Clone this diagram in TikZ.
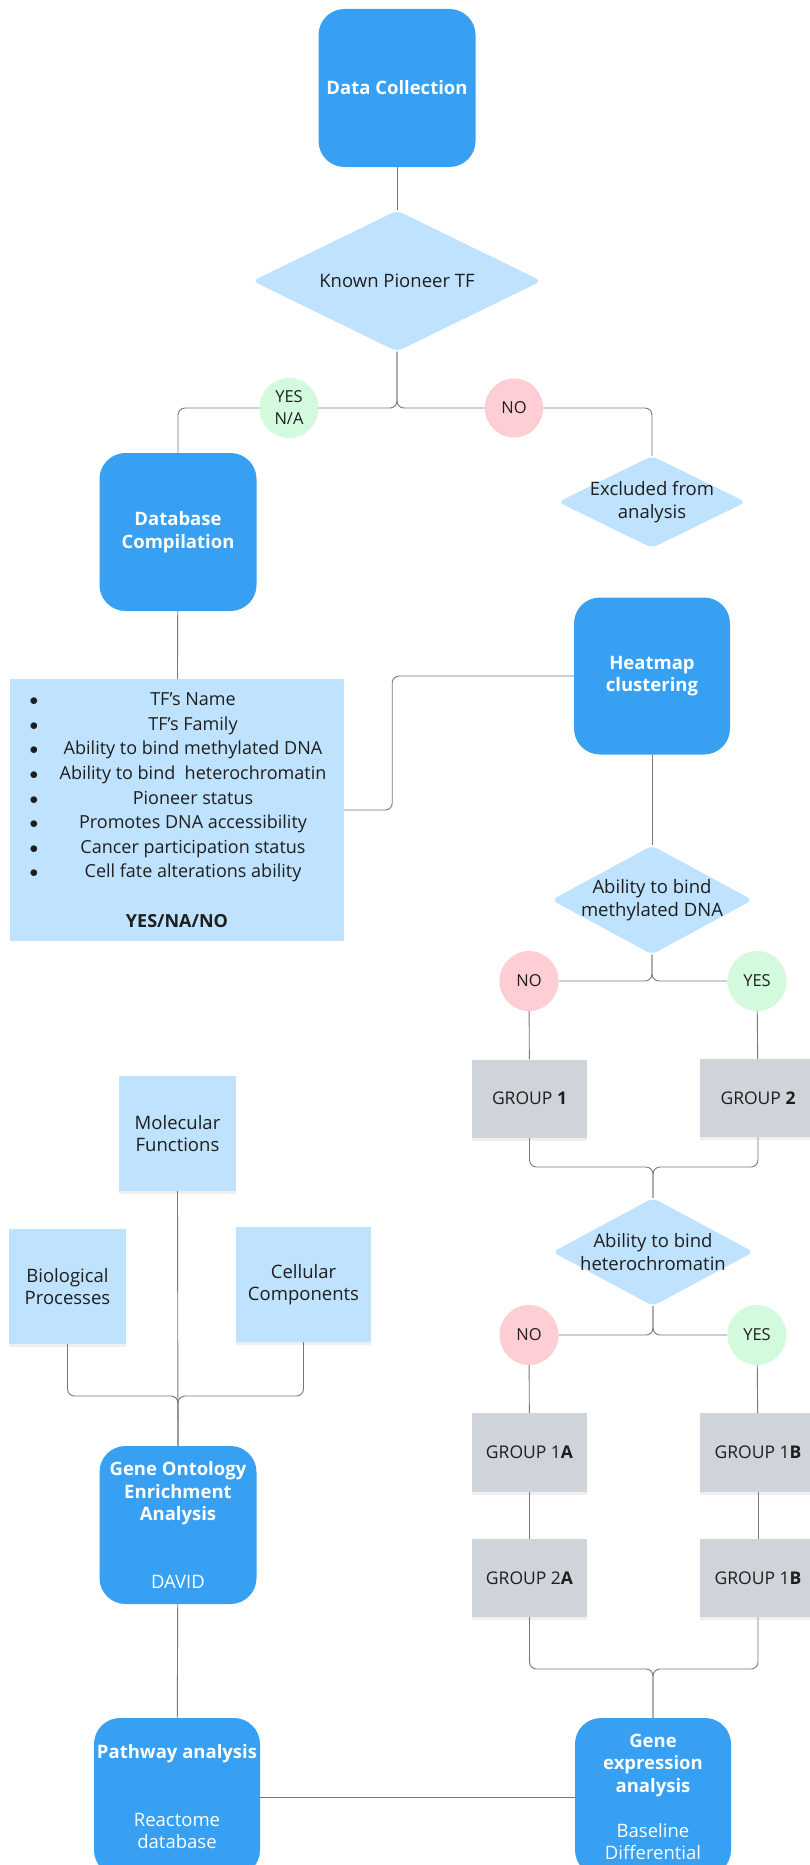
\documentclass[tikz,border=0pt]{standalone}
\usepackage{fontspec}
\setmainfont{Open Sans}
\usetikzlibrary{shapes.geometric,backgrounds,shadows}

\definecolor{stageblue}{RGB}{55,160,242}
\definecolor{paleblue}{RGB}{191,227,254}
\definecolor{yesgreen}{RGB}{212,250,222}
\definecolor{nopink}{RGB}{255,205,212}
\definecolor{groupgray}{RGB}{207,212,219}
\definecolor{linegray}{RGB}{120,120,120}
\definecolor{inkdark}{RGB}{30,30,30}

\begin{document}
\begin{tikzpicture}[x=1pt, y=-1pt,
    font=\fontsize{18.5}{22.5}\selectfont,
    link/.style={draw=linegray, line width=0.9pt, rounded corners=7pt},
    stage/.style={fill=stageblue, text=white, rounded corners=26pt, align=center,
                  inner sep=0pt, minimum width=157pt, minimum height=158pt},
    decide/.style={diamond, aspect=2, fill=paleblue, text=inkdark, rounded corners=6pt,
                   align=center, inner sep=-5pt},
    answer/.style={ellipse, inner sep=0pt, minimum width=59pt, minimum height=60pt,
                   align=center, text=inkdark, font=\fontsize{16.5}{22}\selectfont},
    yesmark/.style={answer, fill=yesgreen},
    nomark/.style={answer, fill=nopink},
    grp/.style={fill=groupgray, text=inkdark, inner sep=0pt,
                minimum width=116pt, minimum height=78pt,
                font=\fontsize{17.5}{22}\selectfont,
                drop shadow={shadow xshift=0pt, shadow yshift=-3pt, opacity=.12}},
    goterm/.style={fill=paleblue, text=inkdark, align=center, inner sep=0pt,
                   minimum width=117pt, minimum height=115pt,
                   drop shadow={shadow xshift=0pt, shadow yshift=-3pt, opacity=.12}}
]

\useasboundingbox (0,0) rectangle (809,1865);

\node[stage] (dc) at (397,88) {\textbf{Data Collection}};
\node[decide, minimum width=289pt, minimum height=141pt] (kpt) at (397,281) {Known Pioneer TF};
\node[yesmark] (yesna) at (289,408) {YES\\N/A};
\node[nomark, minimum width=58pt, minimum height=59pt] (noone) at (514,408) {NO};
\node[stage] (dbc) at (178,532) {\textbf{Database}\\\textbf{Compilation}};
\node[decide, minimum width=188pt, minimum height=92pt] (excl) at (652,502) {Excluded from\\analysis};

\node[fill=paleblue, text=inkdark, inner sep=0pt, align=center,
      minimum width=334pt, minimum height=262pt,
      font=\fontsize{18}{24.6}\selectfont] (list) at (177,810)
    {\makebox[32pt][c]{$\bullet$}\makebox[286pt][c]{TF’s Name}\\
     \makebox[32pt][c]{$\bullet$}\makebox[286pt][c]{TF’s Family}\\
     \makebox[32pt][c]{$\bullet$}\makebox[286pt][c]{Ability to bind methylated DNA}\\
     \makebox[32pt][c]{$\bullet$}\makebox[286pt][c]{Ability to bind\ \ heterochromatin}\\
     \makebox[32pt][c]{$\bullet$}\makebox[286pt][c]{Pioneer status}\\
     \makebox[32pt][c]{$\bullet$}\makebox[286pt][c]{Promotes DNA accessibility}\\
     \makebox[32pt][c]{$\bullet$}\makebox[286pt][c]{Cancer participation status}\\
     \makebox[32pt][c]{$\bullet$}\makebox[286pt][c]{Cell fate alterations ability}\\[24.6pt]
     \textbf{YES/NA/NO}};

\node[stage, minimum width=156pt, minimum height=157pt] (heat) at (652,676) {\textbf{Heatmap}\\\textbf{clustering}};
\node[decide, minimum width=201pt, minimum height=109pt] (meth) at (652,900) {Ability to bind\\methylated DNA};
\node[nomark] (notwo) at (529,981) {NO};
\node[yesmark] (yestwo) at (757,981) {YES};
\node[grp, minimum width=115pt] (g1) at (529.5,1098.5) {GROUP \textbf{1}};
\node[grp] (g2) at (758,1098) {GROUP \textbf{2}};
\coordinate (mone) at (653,1167);
\node[decide, minimum width=201pt, minimum height=108pt] (het) at (653,1252) {Ability to bind\\heterochromatin};
\node[nomark] (nothree) at (529,1335) {NO};
\node[yesmark] (yesthree) at (757,1335) {YES};
\node[grp, minimum width=115pt, minimum height=79pt] (g1a) at (529.5,1452.5) {GROUP 1\textbf{A}};
\node[grp, minimum height=79pt] (g1b) at (758,1452.5) {GROUP 1\textbf{B}};
\node[grp, minimum width=115pt] (g2a) at (529.5,1578) {GROUP 2\textbf{A}};
\node[grp] (g1bb) at (758,1578) {GROUP 1\textbf{B}};
\coordinate (mtwo) at (653,1669);
\node[stage, minimum width=156pt] (gexp) at (653,1797)
    {\textbf{Gene}\\\textbf{expression}\\\textbf{analysis}\\[22.5pt]Baseline\\Differential};

\node[goterm] (mol) at (177.5,1133.5) {Molecular\\Functions};
\node[goterm] (bio) at (67.5,1286.5) {Biological\\Processes};
\node[goterm, minimum width=135pt] (cel) at (303.5,1284.5) {Cellular\\Components};
\coordinate (mthree) at (178,1396);
\node[stage] (go) at (178,1525)
    {\textbf{Gene Ontology}\\\textbf{Enrichment}\\\textbf{Analysis}\\[45pt]DAVID};
\node[stage, minimum width=166pt] (path) at (177,1797)
    {\textbf{Pathway analysis}\\[45pt]Reactome\\database};

\begin{scope}[on background layer]
\fill[white] (0,0) rectangle (809,1865);
\draw[link] (dc) -- (kpt);
\draw[link] (kpt.south) -- (kpt.south |- yesna) -| (dbc.north);
\draw[link] (kpt.south) -- (kpt.south |- noone) -| (excl.north);
\draw[link] (dbc) -- (list);
\draw[link] (list.east) -- ++(48,0) |- (heat.west);
\draw[link] (heat) -- (meth);
\draw[link] (meth.south) |- (notwo);
\draw[link] (meth.south) |- (yestwo);
\draw[link] (notwo) -- (g1);
\draw[link] (yestwo) -- (g2);
\draw[link] (g1.south) |- (mone) -- (het.north);
\draw[link] (g2.south) |- (mone) -- (het.north);
\draw[link] (het.south) |- (nothree);
\draw[link] (het.south) |- (yesthree);
\draw[link] (nothree) -- (g1a);
\draw[link] (yesthree) -- (g1b);
\draw[link] (g1a) -- (g2a);
\draw[link] (g1b) -- (g1bb);
\draw[link] (g2a.south) |- (mtwo) -- (gexp.north);
\draw[link] (g1bb.south) |- (mtwo) -- (gexp.north);
\draw[link] (mol.south) -- (go.north);
\draw[link] (bio.south) |- (mthree) -- (go.north);
\draw[link] (cel.south) |- (mthree) -- (go.north);
\draw[link] (go) -- (path);
\draw[link] (path) -- (gexp);
\end{scope}

\end{tikzpicture}
\end{document}
